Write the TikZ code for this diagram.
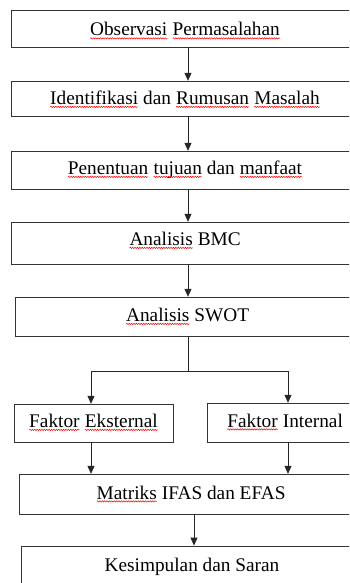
\documentclass[tikz,border=0pt]{standalone}
\usepackage{fontspec}
\setmainfont{Liberation Serif}
\usetikzlibrary{arrows.meta,decorations.pathmorphing}
\newcommand\salah[1]{\tikz[baseline=(w.base)]{\node[draw=none,inner sep=0pt,outer sep=0pt,minimum width=0pt,minimum height=0pt,text height=,text depth=] (w) {#1};
  \draw[red,line width=0.5pt,decorate,decoration={snake,amplitude=0.7pt,segment length=2.4pt}] ([yshift=-2.4pt]w.base west) -- ([yshift=-2.4pt]w.base east);}}
\begin{document}
\begin{tikzpicture}[x=1pt,y=-1pt,line width=0.8pt]
        \tikzstyle{every node}=[draw=black!80,rectangle,inner sep=0pt,text height=23.5pt,font=\fontsize{19.3}{23}\selectfont];
        \tikzstyle{arr}=[draw=black!85,-{Triangle[length=8pt,width=7pt]}];
        \useasboundingbox (0,0) rectangle (349,583);
        \clip (0,0) rectangle (349,583);
        \node[minimum width=348pt,minimum height=37pt,text height=26pt,text depth=11pt] (obs) at (185,28.5) {\salah{Observasi} \salah{Permasalahan}};
        \node[minimum width=348pt,minimum height=35pt,text depth=11.5pt] (idf) at (185,98.5) {\salah{Identifikasi} dan \salah{Rumusan} \salah{Masalah}};
        \node[minimum width=348pt,minimum height=38pt,text depth=14.5pt] (tuj) at (185,170) {\salah{Penentuan} \salah{tujuan} dan \salah{manfaat}};
        \node[minimum width=348pt,minimum height=42pt,text depth=18.5pt] (bmc) at (185,243) {\salah{Analisis} BMC};
        \node[minimum width=345pt,minimum height=39pt,text height=24.5pt,text depth=14.5pt] (swot) at (187.5,316.5) {\salah{Analisis} SWOT};
        \node[minimum width=159pt,minimum height=38pt,text depth=14.5pt] (eks) at (93.5,423) {\salah{Faktor} \salah{Eksternal}};
        \node[minimum width=156pt,minimum height=39pt,text height=24pt,text depth=15pt] (int) at (285,422.5) {\salah{Faktor} Internal};
        \node[minimum width=344pt,minimum height=40pt,text height=25pt,text depth=15pt] (ifas) at (191,494) {\salah{Matriks} IFAS dan EFAS};
        \node[minimum width=342pt,minimum height=40pt,text height=25pt,text depth=15pt] (kes) at (192,566) {Kesimpulan dan Saran};
        \coordinate (mid) at (188,0);
        \coordinate (fork) at (188,371);
        \coordinate (fl) at (91,371);
        \coordinate (fr) at (288,371);
        \coordinate (bot) at (194,0);
        \draw[arr] (obs.south -| mid) -- (idf.north -| mid);
        \draw[arr] (idf.south -| mid) -- (tuj.north -| mid);
        \draw[arr] (tuj.south -| mid) -- (bmc.north -| mid);
        \draw[arr] (bmc.south -| mid) -- (swot.north -| mid);
        \draw[draw=black!85] (swot.south -| mid) -- (fork);
        \draw[arr] (fork) -| (eks.north -| fl);
        \draw[arr] (fork) -| (int.north -| fr);
        \draw[arr] (eks.south -| fl) -- (ifas.north -| fl);
        \draw[arr] (int.south -| fr) -- (ifas.north -| fr);
        \draw[arr] (ifas.south -| bot) -- (kes.north -| bot);
      \end{tikzpicture}
\end{document}
